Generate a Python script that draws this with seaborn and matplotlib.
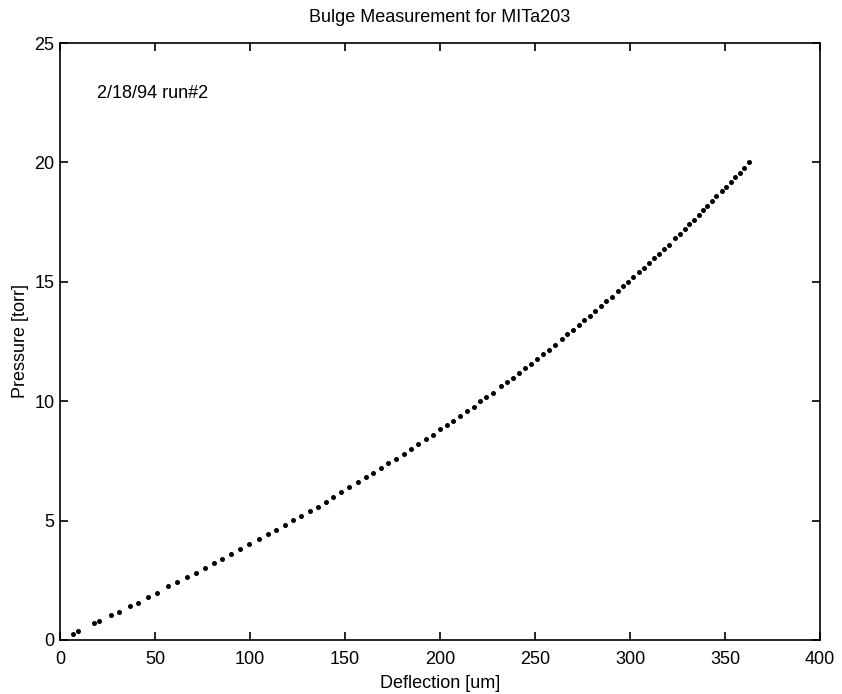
import numpy as np
import pandas as pd
import matplotlib
matplotlib.use("Agg")
import matplotlib.pyplot as plt
import seaborn as sns

# Bulge test, 2/18/94 run #2
deflection_um = [
    7.0, 9.5, 18.1, 20.4, 27.0, 31.2, 37.0, 41.1, 46.2, 51.1,
    57.1, 61.8, 66.7, 71.5, 76.2, 80.9, 85.4, 90.0, 94.9, 99.6,
    104.7, 109.6, 113.8, 118.6, 122.8, 127.0, 131.4, 135.8, 139.8, 143.8,
    148.1, 152.3, 156.6, 160.9, 164.9, 169.0, 172.8, 176.7, 180.9, 184.6,
    188.3, 192.8, 196.3, 200.2, 203.8, 207.0, 210.7, 214.2, 217.7, 220.9,
    224.2, 227.7, 232.0, 235.4, 238.4, 241.6, 244.9, 247.9, 251.1, 254.1,
    257.2, 260.4, 264.1, 267.0, 270.0, 273.0, 276.0, 279.0, 281.7, 284.6,
    287.4, 290.4, 293.7, 296.3, 299.1, 301.7, 304.7, 307.4, 310.1, 312.6,
    315.4, 317.9, 320.6, 323.7, 326.2, 329.0, 331.2, 333.6, 336.2, 338.5,
    340.6, 343.1, 345.5, 348.5, 350.7, 353.1, 355.5, 357.8, 360.2, 362.6,
]
pressure_torr = [
    0.25, 0.36, 0.71, 0.78, 1.06, 1.19, 1.41, 1.56, 1.79, 1.97,
    2.25, 2.42, 2.64, 2.82, 3.01, 3.22, 3.40, 3.61, 3.80, 4.01,
    4.23, 4.42, 4.62, 4.83, 5.01, 5.20, 5.40, 5.58, 5.79, 5.97,
    6.18, 6.40, 6.61, 6.81, 7.00, 7.20, 7.41, 7.59, 7.80, 7.98,
    8.19, 8.43, 8.59, 8.83, 9.00, 9.18, 9.39, 9.59, 9.75, 9.99,
    10.16, 10.35, 10.62, 10.80, 10.97, 11.18, 11.37, 11.57, 11.76, 11.96,
    12.15, 12.34, 12.60, 12.80, 12.99, 13.20, 13.40, 13.58, 13.77, 13.98,
    14.18, 14.36, 14.62, 14.82, 14.99, 15.20, 15.40, 15.59, 15.77, 15.98,
    16.16, 16.36, 16.55, 16.82, 17.02, 17.20, 17.40, 17.60, 17.79, 17.99,
    18.18, 18.38, 18.59, 18.82, 18.98, 19.18, 19.39, 19.57, 19.78, 20.00,
]
x_ticks = [0, 50, 100, 150, 200, 250, 300, 350, 400]
y_ticks = [0, 5, 10, 15, 20, 25]

df = pd.DataFrame({"Deflection": deflection_um, "Pressure": pressure_torr})

sns.set_style("ticks")
plt.rcParams["font.family"] = ["Liberation Sans", "DejaVu Sans"]
plt.rcParams["axes.linewidth"] = 1.2
plt.rcParams["text.color"] = "black"
plt.rcParams["axes.labelcolor"] = "black"

fig = plt.figure(figsize=(8.42, 6.94), dpi=100)
ax = fig.add_axes([60 / 842, 54 / 694, 760 / 842, 597 / 694])

sns.scatterplot(data=df, x="Deflection", y="Pressure", color="black",
                s=13, linewidth=0, ax=ax)

ax.set_xlim(0, 400)
ax.set_ylim(0, 25)
ax.set_xticks(x_ticks)
ax.set_yticks(y_ticks)
ax.tick_params(direction="in", length=6, width=1.2, top=True, right=True,
               labelsize=13, colors="black")
ax.tick_params(axis="x", pad=8)
ax.tick_params(axis="y", pad=4)
for side in ax.spines.values():
    side.set_visible(True)
    side.set_color("black")

ax.text(19.5, 22.7, "2/18/94 run#2", fontsize=13, va="baseline", color="black")
ax.set_title("Bulge Measurement for MITa203", fontsize=13, pad=15, color="black")
ax.set_xlabel("Deflection [um]", fontsize=13, labelpad=5)
ax.set_ylabel("Pressure [torr]", fontsize=13, labelpad=4)

fig.savefig("out.png", dpi=100)
